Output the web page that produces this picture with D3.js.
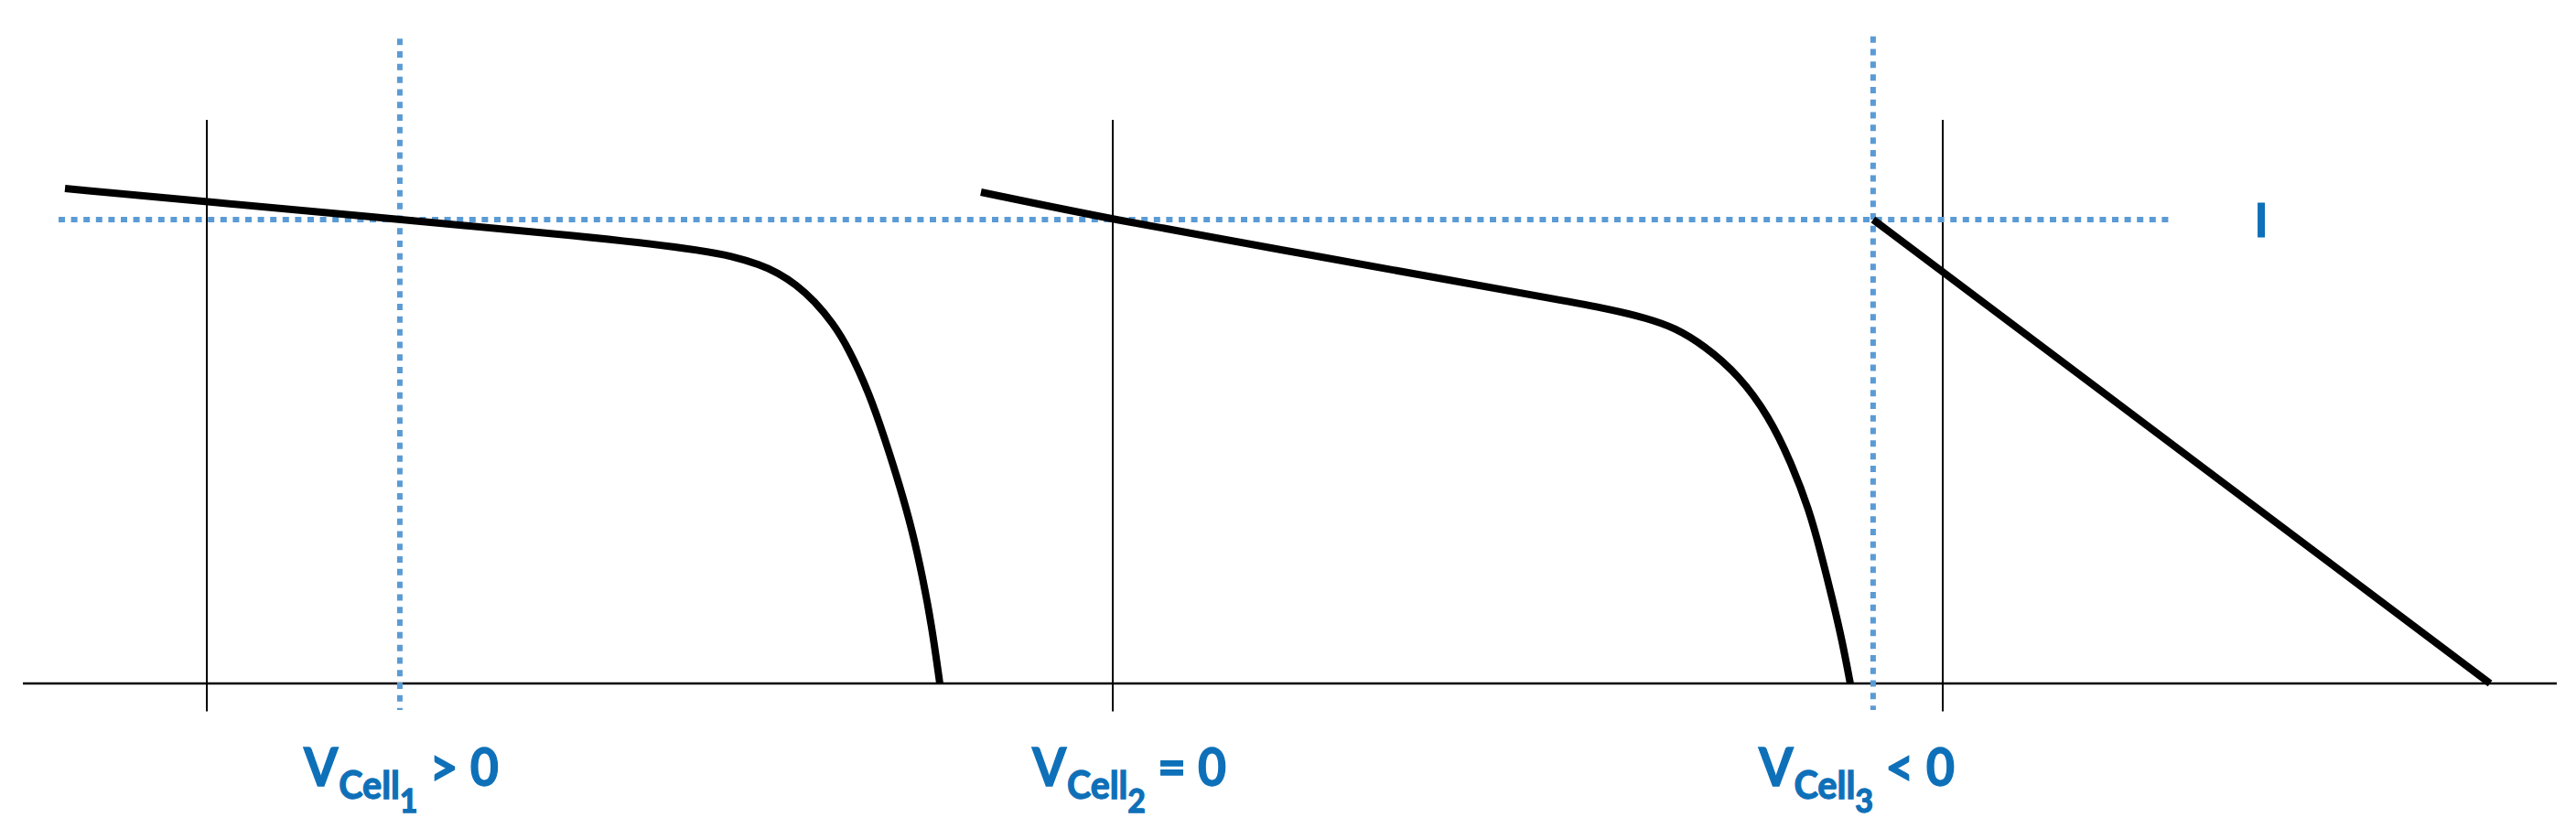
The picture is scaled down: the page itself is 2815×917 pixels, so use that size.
<!DOCTYPE html>
<html><head><meta charset="utf-8">
<script src="https://cdn.jsdelivr.net/npm/d3@7"></script>
<style>html,body{margin:0;padding:0;background:#fff;} svg{display:block}</style>
</head><body><svg id="c" width="2815" height="917"></svg>
<script>
// ---------- data (voltage V in volts, current I normalised to the string current) ----------
const cell1V = [-0.1161, 0, 0.1581, 0.3086, 0.4037, 0.4300, 0.4524, 0.4674, 0.4824, 0.4974, 0.5124, 0.5251, 0.5423, 0.5551, 0.5670, 0.5775, 0.5858, 0.5933, 0.6000];
const cell1I = [1.0671, 1.0385, 1.0000, 0.9645, 0.9349, 0.9211, 0.9034, 0.8856, 0.8600, 0.8245, 0.7771, 0.7239, 0.6252, 0.5266, 0.4280, 0.3294, 0.2308, 0.1262, 0];
const cell2V = [-0.1079, 0, 0.1378, 0.2876, 0.3625, 0.4075, 0.4375, 0.4599, 0.4846, 0.5124, 0.5371, 0.5551, 0.5700, 0.5798, 0.5895, 0.5970, 0.6037];
const cell2I = [1.0592, 1.0000, 0.9349, 0.8639, 0.8284, 0.8067, 0.7870, 0.7673, 0.7278, 0.6647, 0.5759, 0.4773, 0.3748, 0.2801, 0.1775, 0.0927, 0];
const cell3V = [-0.057, 0.448];
const cell3I = [1.000, 0];
const operatingV = [0.158, null, -0.057];   // voltage where each cell carries the string current
const stringI = 1.0;
const labelSub = ["1", "2", "3"];
const labelRel = [">", "=", "<"];
const labelRhs = ["0", "0", "0"];
const currentLabel = "I";

// ---------- layout ----------
const W = 2815, H = 917;
const origins = [226, 1216, 2123];        // x pixel of V = 0 for each cell
const pxPerVolt = 1335;
const labelX = [332, 1128, 1922];
const labelW = [213, 212, 214];
const blue = "#0E70B8", dotBlue = "#5B9BD5";

const svg = d3.select("#c");
svg.append("rect").attr("width", W).attr("height", H).attr("fill", "#fff");

const y = d3.scaleLinear().domain([0, 1]).range([747, 240]);
const xs = origins.map(o => d3.scaleLinear().domain([0, 1]).range([o, o + pxPerVolt]));

// baseline (I = 0)
svg.append("line").attr("x1", 25).attr("x2", 2794).attr("y1", y(0)).attr("y2", y(0))
  .attr("stroke", "#000").attr("stroke-width", 2.5);

// vertical axes (V = 0)
xs.forEach(x => {
  svg.append("line").attr("x1", x(0)).attr("x2", x(0)).attr("y1", y(1.215)).attr("y2", y(-0.06))
    .attr("stroke", "#000").attr("stroke-width", 2);
});

// horizontal dotted string current
svg.append("line").attr("x1", 64).attr("x2", 2372).attr("y1", y(stringI)).attr("y2", y(stringI))
  .attr("stroke", dotBlue).attr("stroke-width", 6).attr("stroke-dasharray", "7 6.6");

// vertical dotted operating points
const dotTop = [1.39, null, 1.395];
operatingV.forEach((v, i) => {
  if (v === null) return;
  const x = xs[i](v);
  svg.append("line").attr("x1", x).attr("x2", x).attr("y1", y(dotTop[i])).attr("y2", y(-0.057))
    .attr("stroke", dotBlue).attr("stroke-width", 6).attr("stroke-dasharray", "7 6.8");
});

// I-V curves
const curves = [[cell1V, cell1I], [cell2V, cell2I], [cell3V, cell3I]];
curves.forEach(([V, I], i) => {
  const pts = V.map((v, k) => [v, I[k]]);
  const line = d3.line().x(d => xs[i](d[0])).y(d => y(d[1]))
    .curve(i === 2 ? d3.curveLinear : d3.curveBasis);
  svg.append("path").attr("d", line(pts)).attr("fill", "none")
    .attr("stroke", "#000").attr("stroke-width", 8).attr("stroke-linejoin", "round");
});

// current label
svg.append("text").attr("x", 2471).attr("y", 259).attr("text-anchor", "middle")
  .attr("font-family", "Lato, 'Open Sans', sans-serif").attr("font-weight", 700)
  .attr("font-size", 51).attr("fill", blue).attr("stroke", blue).attr("stroke-width", 1)
  .text(currentLabel);

// cell voltage labels
labelSub.forEach((s, i) => {
  const t = svg.append("text").attr("x", labelX[i]).attr("y", 859)
    .attr("font-family", "Lato, 'Open Sans', sans-serif").attr("font-weight", 700)
    .attr("fill", blue).attr("stroke", blue).attr("stroke-width", 1.3)
    .attr("textLength", labelW[i]).attr("lengthAdjust", "spacingAndGlyphs");
  t.append("tspan").attr("font-size", 57).text("V");
  t.append("tspan").attr("font-size", 42).attr("dy", 14).attr("dx", 1).text("Cell");
  t.append("tspan").attr("font-size", 36).attr("dy", 15).text(s);
  t.append("tspan").attr("font-size", 57).attr("dy", -29).text(" " + labelRel[i] + " " + labelRhs[i]);
});
</script></body></html>
